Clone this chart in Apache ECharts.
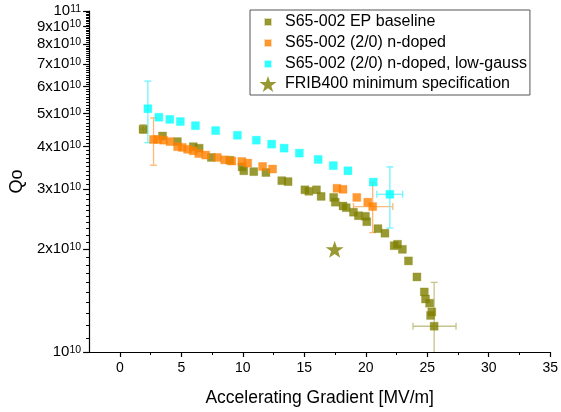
<!DOCTYPE html>
<html>
<head>
<meta charset="utf-8">
<script src="https://cdn.jsdelivr.net/npm/echarts@6/dist/echarts.min.js"></script>
<style>html,body{margin:0;padding:0;background:#fff}#c{width:561px;height:412px}</style>
</head>
<body>
<div id="c"></div>
<script>
// ---- data ----
const seriesNames = ['S65-002 EP baseline', 'S65-002 (2/0) n-doped', 'S65-002 (2/0) n-doped, low-gauss', 'FRIB400 minimum specification'];

const epBaseline = [
  [1.90,4.50e10],[3.47,4.30e10],[4.68,4.14e10],[5.97,4.00e10],[6.45,3.96e10],[7.44,3.72e10],
  [8.95,3.65e10],[9.94,3.49e10],[10.08,3.40e10],[10.89,3.38e10],[11.88,3.36e10],[13.17,3.18e10],
  [13.68,3.16e10],[15.05,2.99e10],[15.37,2.96e10],[15.99,2.99e10],[16.37,2.86e10],[17.39,2.84e10],
  [17.52,2.75e10],[18.15,2.68e10],[18.41,2.65e10],[19.00,2.57e10],[19.40,2.51e10],[19.97,2.50e10],
  [20.08,2.41e10],[20.99,2.30e10],[21.56,2.23e10],[22.31,2.05e10],[22.58,2.07e10],[22.98,2.00e10],
  [23.47,1.85e10],[24.16,1.66e10],[24.76,1.50e10],[24.86,1.43e10],[25.19,1.39e10],[25.37,1.31e10],
  [25.27,1.28e10],[25.56,1.19e10]
];
const nDoped = [
  [2.74,4.20e10],[3.09,4.20e10],[3.55,4.18e10],[4.08,4.14e10],[4.70,4.00e10],[5.08,3.98e10],
  [5.51,3.93e10],[5.97,3.89e10],[6.42,3.82e10],[6.98,3.78e10],[7.93,3.72e10],[8.52,3.66e10],
  [9.11,3.63e10],[9.92,3.62e10],[10.40,3.58e10],[11.61,3.50e10],[12.42,3.44e10],[17.66,3.02e10],
  [18.15,3.00e10],[19.27,2.84e10],[20.16,2.75e10],[20.56,2.67e10]
];
const lowGauss = [
  [2.28,5.17e10],[3.17,4.88e10],[4.06,4.81e10],[4.92,4.74e10],[6.15,4.61e10],[7.79,4.46e10],
  [9.56,4.32e10],[11.10,4.18e10],[12.34,4.07e10],[13.36,3.96e10],[14.60,3.83e10],[16.13,3.67e10],
  [17.36,3.52e10],[18.55,3.40e10],[20.61,3.15e10],[21.96,2.90e10]
];
const fribSpec = [[17.47,2.00e10]];

// error bars: [x, y, xLow, xHigh, yLow, yHigh]
const epErr = [[1.90,4.50e10,1.60,2.15,4.38e10,4.64e10],[25.56,1.19e10,23.84,27.34,0.85e10,1.60e10]];
const nDopedErr = [[2.74,4.20e10,2.74,2.74,3.53e10,4.86e10],[20.56,2.67e10,19.00,22.20,2.24e10,3.14e10]];
const lowGaussErr = [[2.28,5.17e10,2.28,2.28,4.11e10,6.23e10],[21.96,2.90e10,20.90,23.00,2.31e10,3.49e10]];

// axes ticks
const xTicks = [0,5,10,15,20,25,30,35];
const xMinorTicks = [2.5,7.5,12.5,17.5,22.5,27.5,32.5];
const yTicks = [1e10,2e10,3e10,4e10,5e10,6e10,7e10,8e10,9e10,1e11];
const yTickLabels = ['10{s|10}','2x10{s|10}','3x10{s|10}','4x10{s|10}','5x10{s|10}','6x10{s|10}','7x10{s|10}','8x10{s|10}','9x10{s|10}','10{s|11}'];
const yMinorTicks = [];
for (let d = 1; d < 10; d++) for (let k = 1; k < 10; k++) yMinorTicks.push((d + k / 10) * 1e10);

// ---- chart ----
const FONT = '"Liberation Sans", Arial, sans-serif';
const colors = ['#808000', '#ff8000', '#00ffff'];
const errColors = ['#c4c48c', '#ffb878', '#70f4ff'];
const STAR = 'path://M50,0L61.8,34.5L98,34.5L68.9,55.9L79.4,90.5L50,69.4L20.6,90.5L31.1,55.9L2,34.5L38.2,34.5Z';
const SQ = 'path://M0,0M20,16M7,5h6v6h-6z';

function errRender(color) {
  return function (params, api) {
    const x = api.value(0), y = api.value(1), xl = api.value(2), xh = api.value(3), yl = api.value(4), yh = api.value(5);
    const cap = 3.5, st = { stroke: color, lineWidth: 1.3 };
    const ch = [];
    if (yl !== yh) {
      const a = api.coord([x, yl]), b = api.coord([x, yh]);
      ch.push({ type: 'line', shape: { x1: a[0], y1: a[1], x2: b[0], y2: b[1] }, style: st });
      ch.push({ type: 'line', shape: { x1: a[0] - cap, y1: a[1], x2: a[0] + cap, y2: a[1] }, style: st });
      ch.push({ type: 'line', shape: { x1: b[0] - cap, y1: b[1], x2: b[0] + cap, y2: b[1] }, style: st });
    }
    if (xl !== xh) {
      const a = api.coord([xl, y]), b = api.coord([xh, y]);
      ch.push({ type: 'line', shape: { x1: a[0], y1: a[1], x2: b[0], y2: b[1] }, style: st });
      ch.push({ type: 'line', shape: { x1: a[0], y1: a[1] - cap, x2: a[0], y2: a[1] + cap }, style: st });
      ch.push({ type: 'line', shape: { x1: b[0], y1: b[1] - cap, x2: b[0], y2: b[1] + cap }, style: st });
    }
    return { type: 'group', children: ch };
  };
}

const chart = echarts.init(document.getElementById('c'), null, { renderer: 'canvas' });
const axisLineStyle = { color: '#000', width: 1.2 };
chart.setOption({
  animation: false,
  textStyle: { fontFamily: FONT },
  grid: { left: 87, right: 9, top: 11, bottom: 59 },
  legend: {
    orient: 'vertical', left: 250, top: 10,
    padding: [3, 3, 3, 7], itemGap: 3, itemWidth: 20, itemHeight: 16,
    borderColor: '#555', borderWidth: 1,
    textStyle: { fontFamily: FONT, fontSize: 16, color: '#000', padding: [0, 0, 0, 2] },
    data: [
      { name: seriesNames[0], icon: SQ },
      { name: seriesNames[1], icon: SQ },
      { name: seriesNames[2], icon: SQ },
      { name: seriesNames[3], icon: STAR }
    ]
  },
  xAxis: [{
    type: 'value', min: -2.5, max: 35, position: 'bottom',
    name: 'Accelerating Gradient [MV/m]', nameLocation: 'middle', nameGap: 37,
    nameTextStyle: { fontFamily: FONT, fontSize: 17.5, color: '#000' },
    axisLine: { show: true, onZero: false, lineStyle: axisLineStyle },
    axisTick: { show: true, inside: false, customValues: xTicks, length: 5, lineStyle: { color: '#000', width: 1.2 } },
    axisLabel: { show: true, customValues: xTicks, margin: 9, fontSize: 14, color: '#000', fontFamily: FONT },
    splitLine: { show: false }
  }, {
    type: 'value', min: -2.5, max: 35, position: 'bottom', offset: 0,
    axisLine: { show: false, onZero: false },
    axisTick: { show: true, inside: false, customValues: xMinorTicks, length: 3, lineStyle: { color: '#000', width: 1 } },
    axisLabel: { show: false }, splitLine: { show: false }
  }],
  yAxis: [{
    type: 'log', logBase: 10, min: 1e10, max: 1e11, position: 'left',
    name: 'Qo', nameLocation: 'middle', nameGap: 50,
    nameTextStyle: { fontFamily: FONT, fontSize: 18, color: '#000' },
    axisLine: { show: true, onZero: false, lineStyle: axisLineStyle },
    axisTick: { show: true, inside: false, customValues: yTicks, length: 6, lineStyle: { color: '#000', width: 1.2 } },
    axisLabel: {
      show: true, customValues: yTicks, margin: 8, fontSize: 15, color: '#000', fontFamily: FONT,
      hideOverlap: false, showMaxLabel: true, showMinLabel: true,
      formatter: function (v) {
        let best = 0, bd = Infinity;
        yTicks.forEach(function (t, i) { const d = Math.abs(Math.log(t) - Math.log(v)); if (d < bd) { bd = d; best = i; } });
        return yTickLabels[best];
      },
      rich: { s: { fontSize: 10.5, verticalAlign: 'top', fontFamily: FONT, color: '#000' } }
    },
    splitLine: { show: false }
  }, {
    type: 'log', logBase: 10, min: 1e10, max: 1e11, position: 'left', offset: 0,
    axisLine: { show: false, onZero: false },
    axisTick: { show: true, inside: false, customValues: yMinorTicks, length: 3, lineStyle: { color: '#000', width: 1 } },
    axisLabel: { show: false }, splitLine: { show: false }
  }],
  series: [
    { type: 'custom', renderItem: errRender(errColors[0]), data: epErr, encode: { x: 0, y: 1 }, clip: true, z: 1, silent: true },
    { type: 'custom', renderItem: errRender(errColors[1]), data: nDopedErr, encode: { x: 0, y: 1 }, clip: true, z: 1, silent: true },
    { type: 'custom', renderItem: errRender(errColors[2]), data: lowGaussErr, encode: { x: 0, y: 1 }, clip: true, z: 1, silent: true },
    { name: seriesNames[0], type: 'scatter', data: epBaseline, symbol: 'rect', symbolSize: 8, itemStyle: { color: colors[0], borderColor: 'rgba(128,128,0,0.35)', borderWidth: 1 }, z: 2 },
    { name: seriesNames[1], type: 'scatter', data: nDoped, symbol: 'rect', symbolSize: 8, itemStyle: { color: colors[1], borderColor: 'rgba(255,128,0,0.35)', borderWidth: 1 }, z: 3 },
    { name: seriesNames[2], type: 'scatter', data: lowGauss, symbol: 'rect', symbolSize: 8, itemStyle: { color: colors[2], borderColor: 'rgba(0,255,255,0.35)', borderWidth: 1 }, z: 4 },
    { name: seriesNames[3], type: 'scatter', data: fribSpec, symbol: STAR, symbolSize: [18, 17], itemStyle: { color: colors[0] }, z: 5 }
  ]
});
</script>
</body>
</html>
